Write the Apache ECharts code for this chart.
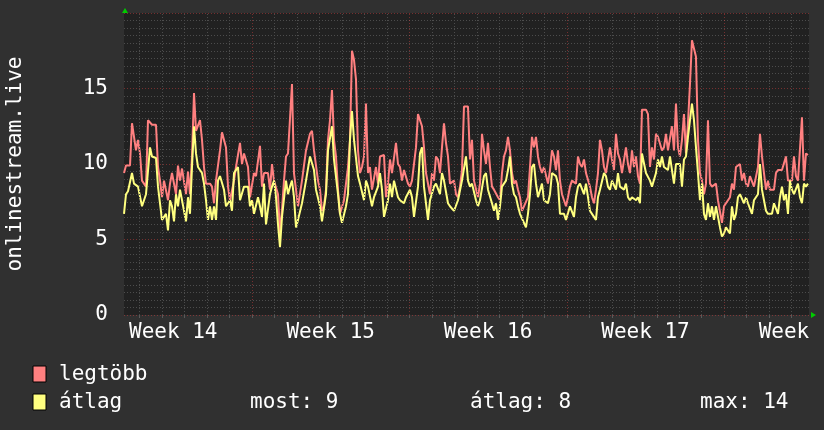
<!DOCTYPE html>
<html>
<head>
<meta charset="utf-8">
<script src="https://cdn.jsdelivr.net/npm/echarts@6/dist/echarts.min.js"></script>
<style>
html,body{margin:0;padding:0;background:#303030;}
#c{width:824px;height:430px;}
</style>
</head>
<body>
<div id="c"></div>
<script>
// ---- data (time in days after Monday of week 14) ----
const startDay = 1.31;
const stepDay = 0.08893;
const endDay = 31.77;
const weekNumbers = [14, 15, 16, 17, 18];
const weekLabelDays = [3.5, 10.5, 17.5, 24.5, 31.5];
const yTickValues = [0, 5, 10, 15];
const seriesNames = ['legtöbb', 'átlag'];

const maxValues = [
  9.4, 9.9, 9.9, 9.9, 12.7, 12.7, 10.9, 11.6, 10.7, 8.9,
  8.9, 8.5, 12.9, 12.9, 12.6, 12.6, 12.6, 9.8, 8.9, 7.8,
  8.9, 8.9, 7.6, 8.7, 9.4, 9.4, 8.0, 9.9, 8.9, 9.7,
  9.7, 8.0, 9.5, 8.0, 10.5, 14.7, 12.2, 12.2, 12.9, 11.6,
  9.8, 8.7, 8.7, 8.7, 8.5, 7.4, 8.9, 8.9, 10.9, 12.1,
  12.1, 11.1, 8.5, 7.6, 7.6, 8.9, 9.8, 9.8, 11.4, 10.0,
  10.7, 10.7, 9.8, 7.8, 7.8, 9.4, 9.2, 9.2, 11.2, 8.5,
  9.4, 9.4, 9.4, 8.3, 10.0, 8.9, 8.9, 8.0, 5.4, 7.0,
  8.9, 10.5, 10.7, 10.7, 15.3, 9.4,
  8.3, 7.2, 7.2, 8.9, 8.9, 10.9, 10.9, 12.0, 12.2, 10.9,
  10.9, 8.9, 8.3, 6.9, 7.2, 8.3, 11.6, 12.9, 14.9, 11.6,
  10.5, 8.3, 6.7, 6.7, 7.6, 7.6, 9.8, 11.6, 17.5, 16.9,
  15.6, 10.9, 9.4, 9.8, 10.5, 14.0, 9.4, 9.8, 8.3, 8.3,
  9.8, 8.7, 10.5, 10.6, 10.6, 7.8, 8.7, 10.3, 9.4, 9.4,
  11.4, 10.0, 9.8, 8.9, 9.6, 9.6, 8.7, 8.5, 8.9, 8.9,
  11.1, 13.3, 13.3, 12.5, 11.1, 9.4, 9.4, 8.0, 9.4, 8.9,
  10.5, 10.3, 9.4, 11.1, 12.7, 11.4, 10.5, 8.7, 8.7, 8.9,
  8.0, 7.8, 8.5, 9.6, 13.8, 13.8,
  13.8, 10.3, 11.6, 8.9, 8.9, 7.8, 8.7, 12.0, 10.9, 10.0,
  11.4, 9.8, 8.5, 8.3, 8.3, 7.8, 7.6, 9.4, 10.5, 10.9,
  11.8, 10.9, 9.4, 8.7, 8.9, 8.3, 7.8, 6.9, 7.2, 7.2,
  7.8, 9.8, 11.8, 11.1, 11.8, 10.5, 9.8, 9.4, 9.8, 9.8,
  8.7, 9.6, 10.9, 10.5, 9.6, 10.9, 8.9, 8.0, 8.0, 7.2,
  7.8, 8.5, 8.9, 8.9, 8.7, 10.5, 10.0, 9.8, 10.3, 9.4,
  9.4, 8.5, 7.8, 7.4, 8.3, 9.4, 11.6, 10.9, 9.8, 9.4,
  9.4, 11.1, 10.3, 9.6, 12.0, 10.7, 10.3, 9.4, 9.4, 11.1,
  10.0, 9.4, 10.9, 9.8, 10.5, 9.2,
  8.7, 13.6, 13.6, 13.6, 13.3, 9.8, 11.1, 10.3, 12.0, 11.8,
  11.8, 10.9, 11.1, 12.0, 10.9, 10.9, 12.5, 10.9, 14.0, 11.1,
  10.5, 11.6, 13.3, 10.7, 12.7, 15.3, 18.2, 18.2, 17.1, 11.6,
  9.4, 8.9, 8.0, 8.7, 12.9, 8.7, 8.5, 8.5, 8.7, 7.6,
  7.6, 6.1, 7.2, 7.4, 7.4, 7.8, 8.7, 8.3, 9.8, 9.9,
  10.0, 8.9, 9.4, 8.7, 8.5, 9.2, 9.2, 8.5, 8.5, 9.8,
  12.0, 10.5, 10.5, 8.3, 8.9, 8.3, 8.3, 8.3, 9.4, 9.6,
  9.6, 9.6, 9.6, 10.5, 8.9, 8.9, 8.9, 10.5, 9.2, 8.9,
  8.9, 13.1, 8.9, 10.7, 10.6
];
const avgValues = [
  6.7, 8.0, 8.2, 8.2, 9.4, 8.7, 8.7, 8.5, 8.5, 7.2,
  7.6, 8.0, 8.0, 11.1, 10.5, 10.4, 10.4, 8.5, 7.4, 6.3,
  6.3, 6.7, 5.6, 7.6, 7.2, 6.2, 8.0, 7.2, 8.3, 8.3,
  6.9, 6.2, 7.8, 6.7, 9.8, 12.5, 10.7, 9.8, 9.8, 9.4,
  8.7, 7.6, 6.3, 7.2, 6.3, 7.2, 6.3, 8.9, 9.2, 9.2,
  8.3, 7.2, 7.2, 7.6, 6.9, 9.4, 9.4, 9.8, 7.6, 7.6,
  8.5, 8.5, 8.5, 7.2, 7.6, 6.7, 6.7, 7.8, 7.2, 6.5,
  8.7, 6.0, 6.0, 8.0, 8.5, 8.9, 7.8, 6.0, 4.5, 6.5,
  6.5, 8.9, 8.0, 8.5, 8.9, 7.8,
  5.8, 6.3, 6.3, 7.4, 7.4, 8.9, 8.9, 10.5, 10.5, 9.6,
  8.3, 8.3, 7.2, 6.2, 6.3, 8.0, 10.9, 10.9, 12.5, 10.3,
  10.3, 8.0, 6.7, 6.1, 6.1, 7.2, 8.0, 11.6, 13.5, 11.6,
  11.6, 9.2, 8.7, 8.7, 7.6, 8.9, 8.5, 8.5, 7.2, 7.8,
  7.8, 8.5, 9.4, 8.3, 6.5, 6.5, 7.6, 8.7, 7.8, 8.9,
  8.9, 7.8, 7.6, 7.6, 7.4, 7.8, 7.8, 8.3, 7.8, 6.5,
  6.5, 8.5, 10.7, 11.1, 8.5, 8.5, 6.3, 7.6, 7.6, 8.5,
  8.7, 8.7, 8.0, 9.4, 8.9, 8.9, 7.4, 7.2, 7.2, 6.9,
  6.9, 7.6, 7.6, 8.9, 8.9, 10.5,
  8.9, 8.5, 8.7, 8.7, 7.6, 7.2, 7.6, 7.6, 9.2, 9.4,
  8.3, 8.3, 7.4, 6.9, 7.4, 6.3, 7.2, 8.5, 8.5, 8.9,
  9.6, 10.5, 8.7, 8.0, 7.8, 7.2, 6.7, 6.7, 6.1, 5.8,
  6.7, 8.0, 9.8, 10.0, 8.7, 7.8, 7.8, 8.7, 7.6, 7.6,
  7.4, 8.0, 9.4, 9.4, 9.2, 8.7, 6.7, 6.7, 6.7, 6.3,
  6.3, 7.2, 7.2, 6.5, 7.8, 8.5, 8.7, 8.7, 8.0, 8.7,
  7.8, 6.9, 6.7, 6.7, 6.3, 7.8, 8.3, 8.3, 9.4, 9.2,
  8.5, 8.3, 8.9, 8.9, 8.3, 9.4, 8.5, 8.5, 8.3, 8.7,
  7.8, 7.6, 7.8, 7.8, 7.6, 7.8,
  7.4, 10.7, 10.7, 9.4, 9.4, 8.9, 8.5, 8.5, 9.4, 10.3,
  9.8, 10.5, 9.8, 9.8, 9.6, 10.5, 9.6, 8.7, 10.0, 10.0,
  10.0, 8.5, 10.3, 10.5, 11.8, 12.9, 14.0, 12.9, 11.1, 9.4,
  7.6, 8.7, 6.7, 6.3, 7.4, 6.5, 7.2, 6.3, 7.2, 7.2,
  5.8, 5.2, 5.4, 5.8, 5.8, 5.4, 7.2, 6.3, 6.7, 7.8,
  8.0, 8.0, 7.4, 7.8, 7.4, 7.4, 6.7, 7.6, 7.6, 8.0,
  10.0, 8.3, 8.3, 6.9, 6.7, 6.7, 6.7, 7.4, 7.4, 6.7,
  7.8, 8.5, 7.6, 8.0, 6.7, 8.9, 8.3, 8.0, 8.0, 8.7,
  7.8, 7.4, 8.7, 8.5, 8.7
];

// ---- derived ----
const times = maxValues.map((_, i) => startDay + i * stepDay);
const maxData = maxValues.map((v, i) => [times[i], v]);
const avgData = avgValues.map((v, i) => [times[i], v]);
const days = [];
for (let d = Math.ceil(startDay); d <= endDay; d++) days.push(d);
const dayLines = days.filter(d => d % 7 !== 0);
const weekLines = days.filter(d => d % 7 === 0);
const nowVal = Math.round(avgValues[avgValues.length - 1]);
const meanVal = Math.round(avgValues.reduce((a, b) => a + b, 0) / avgValues.length);
const maxVal = Math.round(Math.max.apply(null, avgValues));

// ---- layout / style ----
const FONT = 'DejaVu Sans Mono';
const G = {left: 124, right: 15, top: 13, bottom: 115};
const W = 824, H = 430;
const RED = '#ff8080', YEL = '#ffff80';
const MINOR = '#4c4c4c', MAJOR = 'rgba(255,70,70,0.38)';

const chart = echarts.init(document.getElementById('c'));

function legendText(txt, x, y) {
  return {type: 'text', x: x, y: y, silent: true,
    style: {text: txt, fill: '#ffffff', font: '21px "' + FONT + '"', verticalAlign: 'middle', align: 'left'}};
}
function gridLineSeries(values, color) {
  return {
    type: 'line', data: [], z: 1, silent: true,
    markLine: {silent: true, symbol: 'none', animation: false, label: {show: false},
      emphasis: {disabled: true},
      lineStyle: {color: color, type: [1, 2], width: 1},
      data: values.map(d => ({xAxis: d}))}
  };
}

const option = {
  backgroundColor: '#303030',
  animation: false,
  grid: {left: G.left, right: G.right, top: G.top, bottom: G.bottom, show: true,
    backgroundColor: '#212121', borderWidth: 0, containLabel: false, outerBoundsMode: 'none'},
  xAxis: {
    type: 'value', min: startDay, max: endDay,
    axisLine: {show: false},
    axisTick: {show: true, customValues: days, length: 3, lineStyle: {color: '#5a5a5a'}},
    splitLine: {show: false},
    axisLabel: {
      customValues: weekLabelDays,
      formatter: v => 'Week ' + weekNumbers[weekLabelDays.indexOf(v)],
      color: '#ffffff', fontFamily: FONT, fontSize: 21, margin: 7
    }
  },
  yAxis: {
    type: 'value', min: 0, max: 20, interval: 5,
    name: 'onlinestream.live', nameLocation: 'middle', nameGap: 98,
    nameTextStyle: {color: '#ffffff', fontFamily: FONT, fontSize: 21},
    axisLine: {show: false},
    axisTick: {show: false},
    axisLabel: {customValues: yTickValues, color: '#ffffff', fontFamily: FONT, fontSize: 21, margin: 16},
    splitLine: {show: true, lineStyle: {color: MAJOR, type: [1, 2], width: 1}},
    minorTick: {show: false, splitNumber: 10},
    minorSplitLine: {show: true, lineStyle: {color: MINOR, type: [1, 2], width: 1}}
  },
  series: [
    gridLineSeries(dayLines, MINOR),
    gridLineSeries(weekLines, MAJOR),
    {
      name: seriesNames[0], type: 'line', data: maxData, showSymbol: false, z: 3,
      lineStyle: {color: RED, width: 2}, itemStyle: {color: RED}, silent: true
    },
    {
      name: seriesNames[1], type: 'line', data: avgData, showSymbol: false, z: 4,
      lineStyle: {color: YEL, width: 2}, itemStyle: {color: YEL}, silent: true
    }
  ],
  graphic: [
    {type: 'polygon', silent: true, shape: {points: [[G.left + 1, G.top - 5], [G.left - 2, G.top], [G.left + 4, G.top]]}, style: {fill: '#00cc00'}},
    {type: 'polygon', silent: true, shape: {points: [[W - G.right + 7, H - G.bottom], [W - G.right + 2, H - G.bottom - 3], [W - G.right + 2, H - G.bottom + 3]]}, style: {fill: '#00cc00'}},
    {type: 'rect', silent: true, shape: {x: 33, y: 366, width: 13, height: 16}, style: {fill: RED, stroke: '#000', lineWidth: 1}},
    {type: 'rect', silent: true, shape: {x: 33, y: 394, width: 13, height: 16}, style: {fill: YEL, stroke: '#000', lineWidth: 1}},
    legendText(seriesNames[0], 59, 375),
    legendText(seriesNames[1], 59, 403),
    legendText('most: ' + nowVal, 250, 403),
    legendText('átlag: ' + meanVal, 470, 403),
    legendText('max: ' + maxVal, 700, 403)
  ]
};
chart.setOption(option);
</script>
</body>
</html>
